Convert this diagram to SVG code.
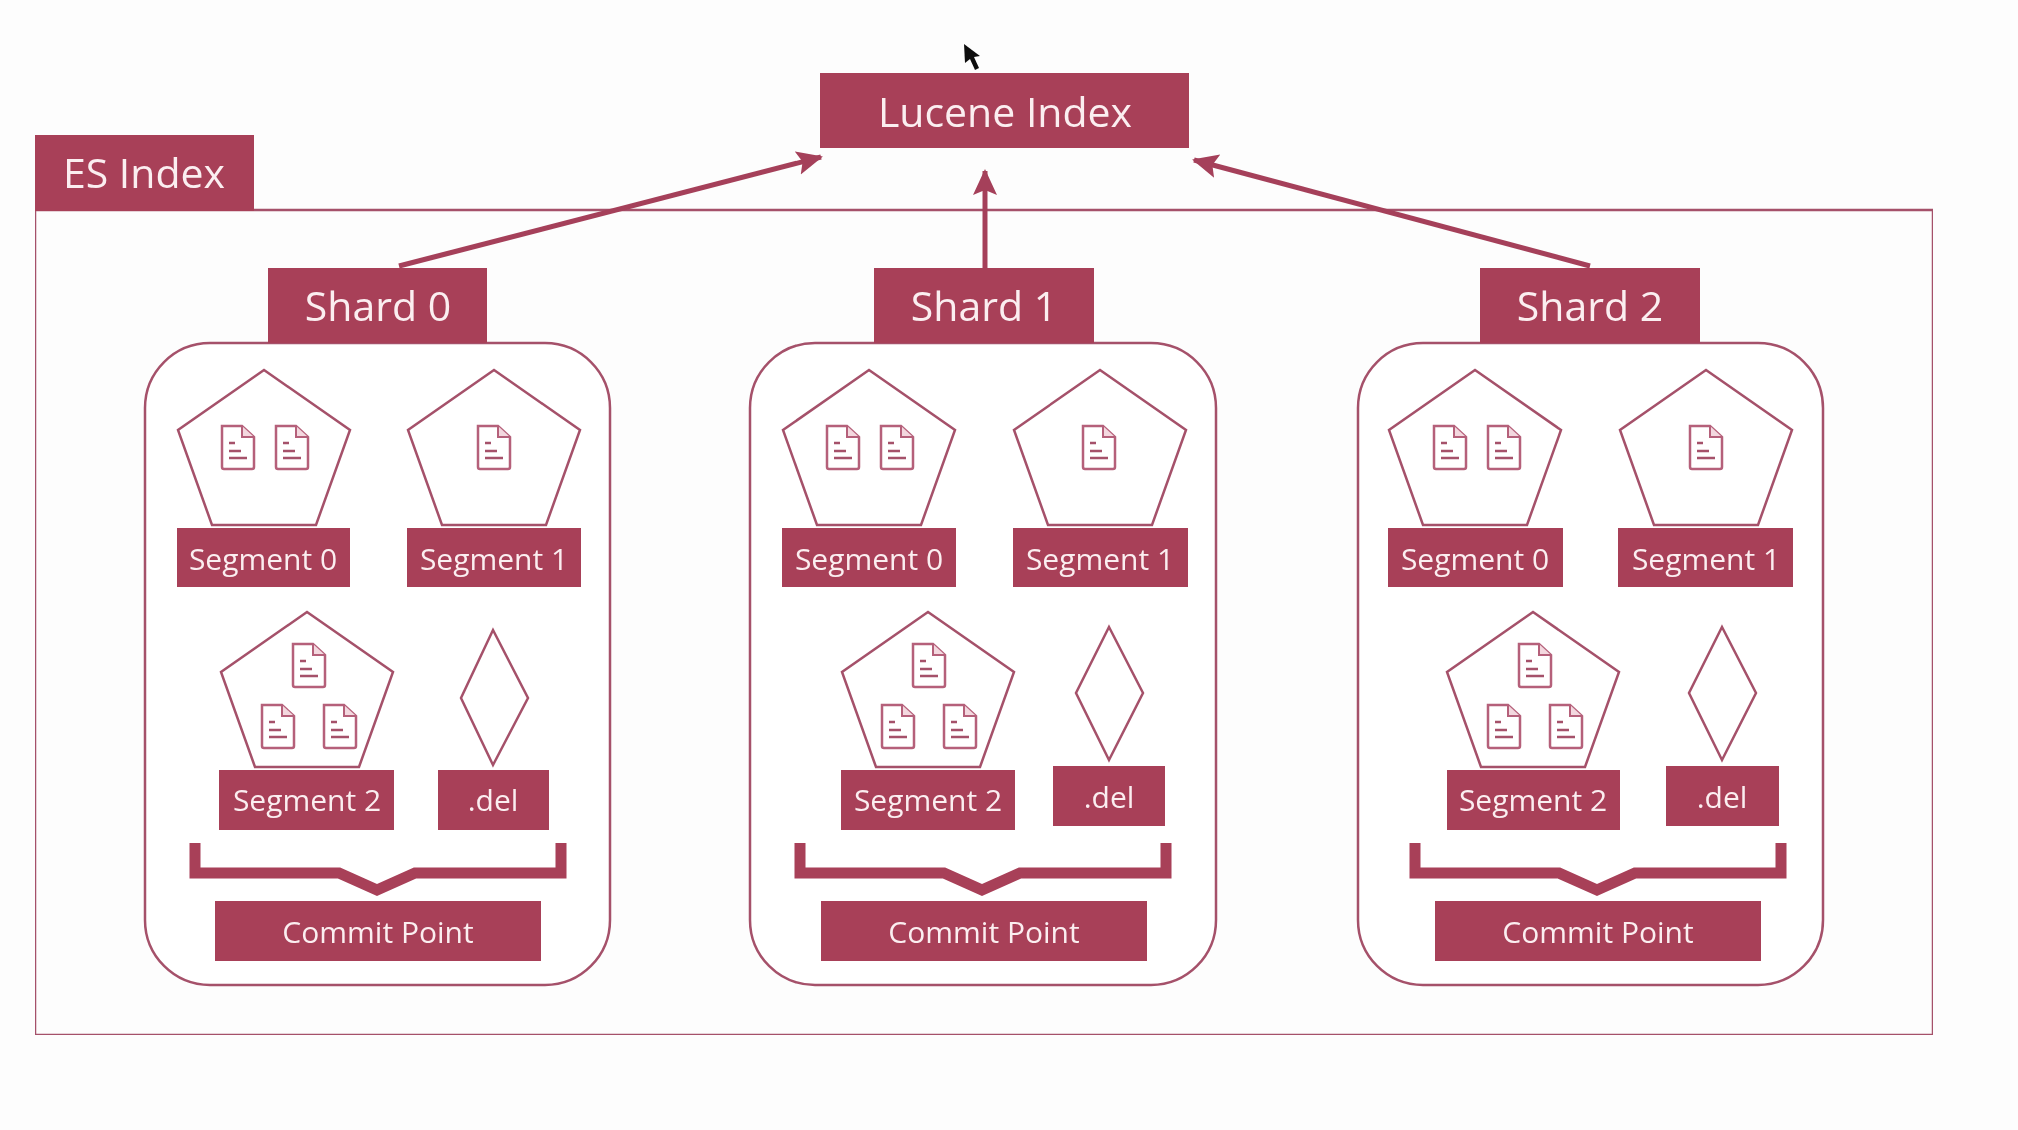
<svg xmlns="http://www.w3.org/2000/svg" width="2018" height="1130" viewBox="0 0 2018 1130">
<style>
.f{fill:#a83f58}
.o{fill:none;stroke:#a5516a;stroke-width:2.5}
.w{fill:#fff;stroke:#a5516a;stroke-width:2.5}
text{font-family:"Open Sans","Noto Sans","DejaVu Sans",sans-serif;fill:#fbeef0;text-anchor:middle}
.l{font-size:41px}
.s{font-size:30px}
.c{stroke:#a5405a;stroke-width:5;fill:none}
</style>
<defs>
<filter id="soft" x="0" y="0" width="100%" height="100%"><feGaussianBlur stdDeviation="0.7"/></filter>
<marker id="ah" markerUnits="userSpaceOnUse" markerWidth="28" markerHeight="28" refX="24" refY="14" orient="auto"><path d="M0 2 L26 14 L0 26 L5 14Z" fill="#a5405a"/></marker>
<g id="doc">
<path d="M1 2 H21 L33 13 V43 Q33 45 31 45 H3 Q1 45 1 43Z" fill="#fff" stroke="#b5607a" stroke-width="2.5"/>
<path d="M21 2 V13 H33" fill="#f3d8df" stroke="#b5607a" stroke-width="2"/>
<path d="M8 19 H14 M8 27 H20 M8 34 H26" stroke="#a5516a" stroke-width="2.5" fill="none"/>
</g>
<path id="pent" d="M0 0 L86 60 L52 155 H-52 L-86 60Z" class="w"/>
<path id="bracket" d="M6 0 V30 H150 L188 47 L226 30 H372 V0" fill="none" stroke="#a83f58" stroke-width="11"/>
</defs>
<rect width="2018" height="1130" fill="#fdfdfd"/>
<g filter="url(#soft)">
<g id="es-index-frame"><rect x="35" y="210" width="1898" height="825" class="o"/></g>
<g id="es-index"><rect x="35" y="135" width="219" height="76" class="f"/><text x="144" y="188" class="l">ES Index</text></g>
<g id="lucene-index"><rect x="820" y="73" width="369" height="75" class="f"/><text x="1005" y="127" class="l">Lucene Index</text></g>

<g id="connectors">
<path d="M399 266 L821 157" class="c" marker-end="url(#ah)"/>
<path d="M985 268 V171" class="c" marker-end="url(#ah)"/>
<path d="M1590 266 L1194 160" class="c" marker-end="url(#ah)"/>
</g>

<g id="shard-0">
<rect x="145" y="343" width="465" height="642" rx="65" class="w"/>
<rect x="268" y="268" width="219" height="75" class="f"/><text x="378" y="321" class="l">Shard 0</text>
<use href="#pent" x="264" y="370"/><use href="#pent" x="494" y="370"/><use href="#pent" x="307" y="612"/>
<use href="#doc" x="221" y="424"/><use href="#doc" x="275" y="424"/><use href="#doc" x="477" y="424"/>
<use href="#doc" x="292" y="642"/><use href="#doc" x="261" y="703"/><use href="#doc" x="323" y="703"/>
<path d="M493 630 L528 698 L493 765 L461 698Z" class="w"/>
<rect x="177" y="528" width="173" height="59" class="f"/><text x="263" y="570" class="s">Segment 0</text>
<rect x="407" y="528" width="174" height="59" class="f"/><text x="494" y="570" class="s">Segment 1</text>
<rect x="219" y="770" width="175" height="60" class="f"/><text x="307" y="811" class="s">Segment 2</text>
<rect x="438" y="770" width="111" height="60" class="f"/><text x="493" y="811" class="s">.del</text>
<use href="#bracket" x="189" y="843"/>
<rect x="215" y="901" width="326" height="60" class="f"/><text x="378" y="943" class="s">Commit Point</text>
</g>

<g id="shard-1">
<rect x="750" y="343" width="466" height="642" rx="65" class="w"/>
<rect x="874" y="268" width="220" height="75" class="f"/><text x="984" y="321" class="l">Shard 1</text>
<use href="#pent" x="869" y="370"/><use href="#pent" x="1100" y="370"/><use href="#pent" x="928" y="612"/>
<use href="#doc" x="826" y="424"/><use href="#doc" x="880" y="424"/><use href="#doc" x="1082" y="424"/>
<path d="M1109 627 L1143 693 L1109 760 L1076 693Z" class="w"/>
<use href="#doc" x="912" y="642"/><use href="#doc" x="881" y="703"/><use href="#doc" x="943" y="703"/>
<rect x="782" y="528" width="174" height="59" class="f"/><text x="869" y="570" class="s">Segment 0</text>
<rect x="1013" y="528" width="175" height="59" class="f"/><text x="1100" y="570" class="s">Segment 1</text>
<rect x="841" y="770" width="174" height="60" class="f"/><text x="928" y="811" class="s">Segment 2</text>
<rect x="1053" y="766" width="112" height="60" class="f"/><text x="1109" y="808" class="s">.del</text>
<use href="#bracket" x="794" y="843"/>
<rect x="821" y="901" width="326" height="60" class="f"/><text x="984" y="943" class="s">Commit Point</text>
</g>

<g id="shard-2">
<rect x="1358" y="343" width="465" height="642" rx="65" class="w"/>
<rect x="1480" y="268" width="220" height="75" class="f"/><text x="1590" y="321" class="l">Shard 2</text>
<use href="#pent" x="1475" y="370"/><use href="#pent" x="1706" y="370"/><use href="#pent" x="1533" y="612"/>
<use href="#doc" x="1433" y="424"/><use href="#doc" x="1487" y="424"/><use href="#doc" x="1689" y="424"/>
<path d="M1722 627 L1756 693 L1722 760 L1689 693Z" class="w"/>
<use href="#doc" x="1518" y="642"/><use href="#doc" x="1487" y="703"/><use href="#doc" x="1549" y="703"/>
<rect x="1388" y="528" width="175" height="59" class="f"/><text x="1475" y="570" class="s">Segment 0</text>
<rect x="1618" y="528" width="175" height="59" class="f"/><text x="1706" y="570" class="s">Segment 1</text>
<rect x="1447" y="770" width="173" height="60" class="f"/><text x="1533" y="811" class="s">Segment 2</text>
<rect x="1666" y="766" width="113" height="60" class="f"/><text x="1722" y="808" class="s">.del</text>
<use href="#bracket" x="1409" y="843"/>
<rect x="1435" y="901" width="326" height="60" class="f"/><text x="1598" y="943" class="s">Commit Point</text>
</g>

<path id="cursor" d="M964 44 L965 63 L970 59 L975 70 L979 68 L974 57 L980 56Z" fill="#111"/>
</g>
</svg>
